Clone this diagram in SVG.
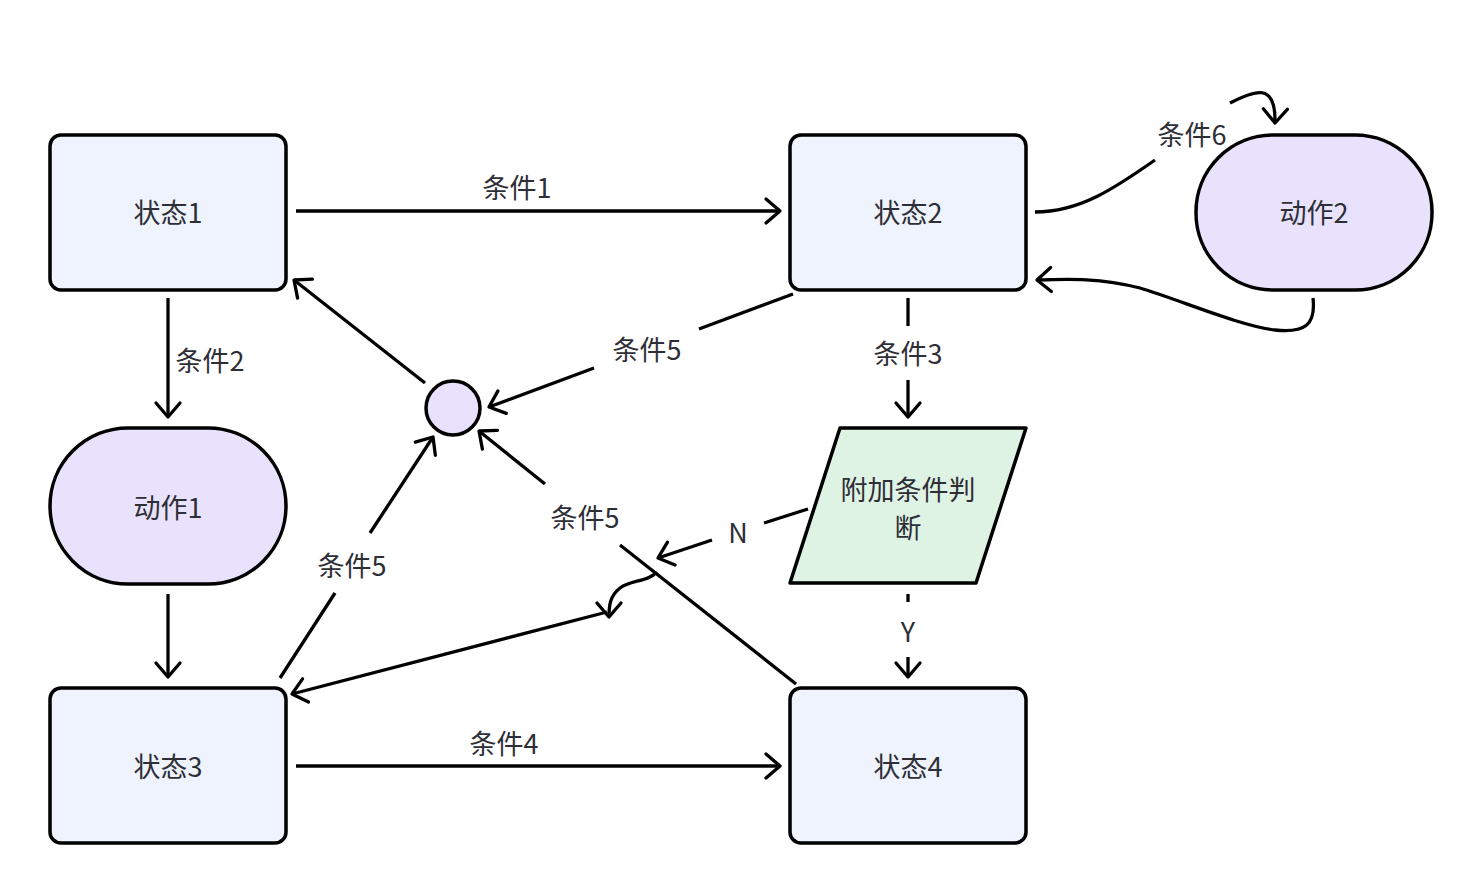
<svg xmlns="http://www.w3.org/2000/svg" width="1482" height="893" viewBox="0 0 1482 893">
<style>
.state{fill:#eef3fd;stroke:#000;stroke-width:3.5}
.action{fill:#e9e2fd;stroke:#000;stroke-width:3.5}
.decision{fill:#dff3e4;stroke:#000;stroke-width:3.5;stroke-linejoin:round}
.lbl{font-family:"Noto Sans CJK SC","Noto Sans",sans-serif;font-size:27px;fill:#2e2e36;text-anchor:middle;dominant-baseline:central}
.edge{fill:none;stroke:#000;stroke-width:3.3}
</style>
<defs>
<marker id="arr" markerUnits="userSpaceOnUse" markerWidth="40" markerHeight="40" viewBox="-20 -20 40 40" refX="0" refY="0" orient="auto">
<path d="M-14,-12 L0,0 L-14,12" fill="none" stroke="#000" stroke-width="3.3" stroke-linecap="round" stroke-linejoin="round"/>
</marker>
</defs>
<rect width="1482" height="893" fill="#fff"/>
<g id="connectors">
<path class="edge" d="M296,211 H780" marker-end="url(#arr)"/>
<text class="lbl" x="517" y="186">条件1</text>
<path class="edge" d="M168,298 V417" marker-end="url(#arr)"/>
<text class="lbl" x="210" y="359">条件2</text>
<path class="edge" d="M168,594 V677" marker-end="url(#arr)"/>
<path class="edge" d="M296,766 H780" marker-end="url(#arr)"/>
<text class="lbl" x="504" y="742">条件4</text>
<path class="edge" d="M908,298 V326"/>
<path class="edge" d="M908,380 V417" marker-end="url(#arr)"/>
<text class="lbl" x="908" y="352">条件3</text>
<path class="edge" d="M908,594 V602"/>
<path class="edge" d="M908,657 V677" marker-end="url(#arr)"/>
<text class="lbl" x="908" y="630">Y</text>
<path class="edge" d="M793,294 L699,329"/>
<path class="edge" d="M594,368 L489,407" marker-end="url(#arr)"/>
<text class="lbl" x="647" y="348">条件5</text>
<path class="edge" d="M425,383 L294,280" marker-end="url(#arr)"/>
<path class="edge" d="M280,678 L335,593"/>
<path class="edge" d="M370,533 L433,437" marker-end="url(#arr)"/>
<text class="lbl" x="352" y="564">条件5</text>
<path class="edge" d="M796,684 L620,545"/>
<path class="edge" d="M545,484 L479,431" marker-end="url(#arr)"/>
<text class="lbl" x="585" y="516">条件5</text>
<path class="edge" d="M808,509 L764,523"/>
<path class="edge" d="M712,540 L658,558" marker-end="url(#arr)"/>
<text class="lbl" x="738" y="531">N</text>
<path class="edge" d="M657,572 C648,582 630,580 620,588 C610,596 609,605 609,617" marker-end="url(#arr)"/>
<path class="edge" d="M607,612 L292,694" marker-end="url(#arr)"/>
<path class="edge" d="M1035,212 C1080,212 1115,188 1155,160"/>
<path class="edge" d="M1230,103 C1255,90 1276,82 1275,123" marker-end="url(#arr)"/>
<text class="lbl" x="1192" y="133">条件6</text>
<path class="edge" d="M1313,298 C1316,325 1305,333 1275,330 C1240,326 1180,300 1140,288 C1100,278 1070,279 1037,280" marker-end="url(#arr)"/>
</g>
<g id="state1"><rect class="state" x="50" y="135" width="236" height="155" rx="11"/><text class="lbl" x="168" y="211">状态1</text></g>
<g id="state2"><rect class="state" x="790" y="135" width="236" height="155" rx="11"/><text class="lbl" x="908" y="211">状态2</text></g>
<g id="state3"><rect class="state" x="50" y="688" width="236" height="155" rx="11"/><text class="lbl" x="168" y="765">状态3</text></g>
<g id="state4"><rect class="state" x="790" y="688" width="236" height="155" rx="11"/><text class="lbl" x="908" y="765">状态4</text></g>
<g id="action1"><rect class="action" x="50" y="428" width="236" height="156" rx="78"/><text class="lbl" x="168" y="506">动作1</text></g>
<g id="action2"><rect class="action" x="1196" y="135" width="236" height="155" rx="77"/><text class="lbl" x="1314" y="211">动作2</text></g>
<g id="junction"><circle class="action" cx="453" cy="408" r="27"/></g>
<g id="decision"><polygon class="decision" points="840,428 1026,428 976,583 790,583"/><text class="lbl" x="908" y="488">附加条件判</text><text class="lbl" x="908" y="526">断</text></g>
</svg>
